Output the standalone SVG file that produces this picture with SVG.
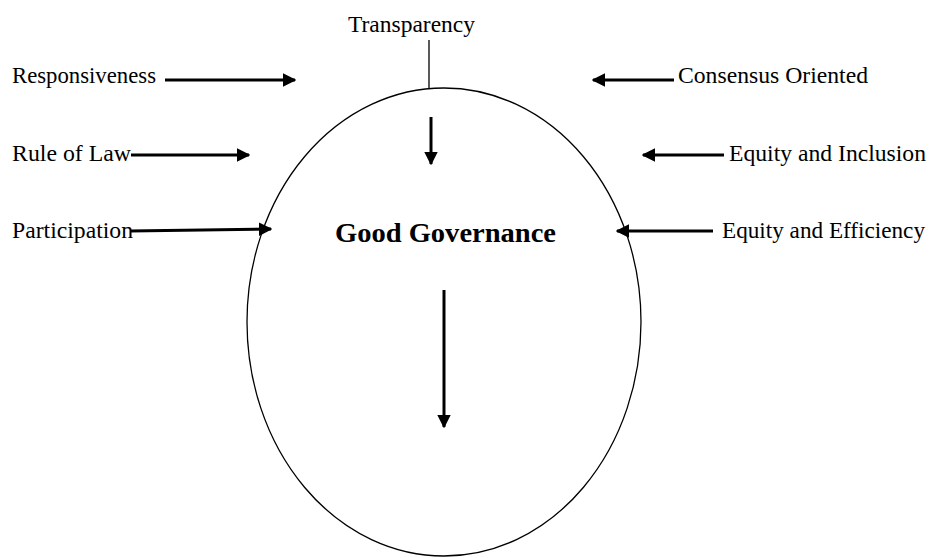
<svg xmlns="http://www.w3.org/2000/svg" width="929" height="558" viewBox="0 0 929 558">
<style>
.t{font-family:"Liberation Serif","Times New Roman",serif;font-size:23px;fill:#000}
.b{font-family:"Liberation Serif","Times New Roman",serif;font-size:27px;font-weight:bold;fill:#000}
.a{stroke:#000;stroke-width:3;fill:none;marker-end:url(#ah)}
</style>
<defs>
<marker id="ah" viewBox="0 0 10 10" refX="9" refY="5" markerWidth="4.5" markerHeight="4.5" orient="auto" markerUnits="strokeWidth">
<path d="M0,0 L10,5 L0,10 Z" fill="#000"/>
</marker>
</defs>
<rect width="929" height="558" fill="#fff"/>
<g id="good-governance">
<ellipse cx="444" cy="322" rx="197" ry="234" fill="none" stroke="#000" stroke-width="1.3"/>
<text class="b" x="335" y="242" textLength="221" lengthAdjust="spacingAndGlyphs">Good Governance</text>
</g>
<g id="transparency"><text class="t" x="348" y="32" textLength="127" lengthAdjust="spacingAndGlyphs">Transparency</text></g>
<g id="responsiveness"><text class="t" x="12" y="83" textLength="144" lengthAdjust="spacingAndGlyphs">Responsiveness</text></g>
<g id="rule-of-law"><text class="t" x="12" y="161" textLength="119" lengthAdjust="spacingAndGlyphs">Rule of Law</text></g>
<g id="participation"><text class="t" x="12" y="238" textLength="121" lengthAdjust="spacingAndGlyphs">Participation</text></g>
<g id="consensus"><text class="t" x="678" y="83" textLength="190" lengthAdjust="spacingAndGlyphs">Consensus Oriented</text></g>
<g id="equity-inclusion"><text class="t" x="729" y="161" textLength="197" lengthAdjust="spacingAndGlyphs">Equity and Inclusion</text></g>
<g id="equity-efficiency"><text class="t" x="722" y="238" textLength="203" lengthAdjust="spacingAndGlyphs">Equity and Efficiency</text></g>
<g id="connectors">
<line x1="429" y1="40" x2="429" y2="88" stroke="#000" stroke-width="1.3"/>
<line class="a" x1="431" y1="117" x2="431" y2="164"/>
<line class="a" x1="444" y1="290" x2="444" y2="427"/>
<line class="a" x1="165" y1="80" x2="295" y2="80"/>
<line class="a" x1="131" y1="155" x2="249" y2="155"/>
<line class="a" x1="130" y1="231" x2="271" y2="229"/>
<line class="a" x1="674" y1="80" x2="593" y2="80"/>
<line class="a" x1="724" y1="155" x2="643" y2="155"/>
<line class="a" x1="713" y1="231" x2="617" y2="231"/>
</g>
</svg>
